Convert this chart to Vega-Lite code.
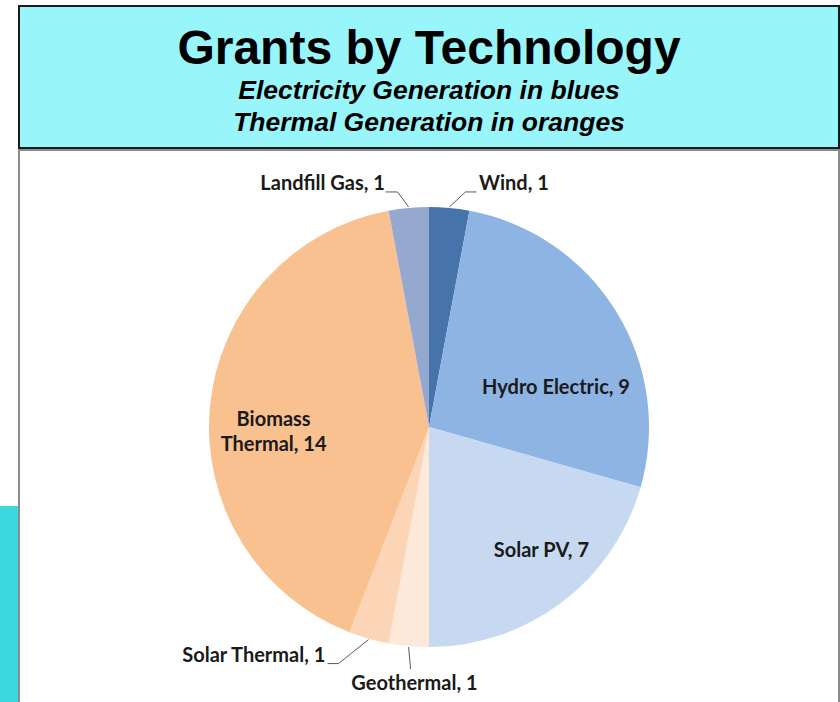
{
  "$schema": "https://vega.github.io/schema/vega-lite/v6.json",
  "padding": {"left": 0, "top": 5, "right": 0, "bottom": 0},
  "autosize": {"type": "pad"},
  "background": "white",
  "spacing": 0,
  "config": {"text": {"font": "Lato", "fontWeight": "bold", "fontSize": 20, "color": "#1a1a1a"}},
  "hconcat": [
    {
      "spacing": 0,
      "vconcat": [
        {
          "width": 18, "height": 500,
          "view": {"fill": "white", "stroke": null},
          "data": {"values": [{}]},
          "mark": {"type": "text", "text": ""}
        },
        {
          "width": 18, "height": 197,
          "view": {"fill": "#3DD8DE", "stroke": null},
          "data": {"values": [{}]},
          "mark": {"type": "text", "text": ""}
        }
      ]
    },
    {
      "spacing": 0,
      "vconcat": [
        {
          "width": 820,
          "height": 142,
          "view": {"fill": "#98F5FA", "stroke": "#1a1a1a", "strokeWidth": 2},
          "title": {
            "text": "Grants by Technology",
            "subtitle": ["Electricity Generation in blues", "Thermal Generation in oranges"],
            "anchor": "middle",
            "frame": "group",
            "orient": "top",
            "offset": -130,
            "font": "Liberation Sans",
            "fontSize": 48,
            "fontWeight": "bold",
            "color": "black",
            "subtitleFont": "Liberation Sans",
            "subtitleFontSize": 26.5,
            "subtitleFontStyle": "italic",
            "subtitleFontWeight": "bold",
            "subtitleColor": "black",
            "subtitlePadding": 4,
            "subtitleLineHeight": 32
          },
          "data": {"values": [{}]},
          "mark": {"type": "text", "text": ""}
        },
        {
          "width": 820,
          "height": 554,
          "view": {"fill": "white", "stroke": "#8c8c8c", "strokeWidth": 2},
          "data": {
            "values": [
              {"tech": "Wind", "grants": 1, "order": 1},
              {"tech": "Hydro Electric", "grants": 9, "order": 2},
              {"tech": "Solar PV", "grants": 7, "order": 3},
              {"tech": "Geothermal", "grants": 1, "order": 4},
              {"tech": "Solar Thermal", "grants": 1, "order": 5},
              {"tech": "Biomass Thermal", "grants": 14, "order": 6},
              {"tech": "Landfill Gas", "grants": 1, "order": 7}
            ]
          },
          "transform": [
            {"stack": "grants", "groupby": [], "sort": [{"field": "order", "order": "ascending"}], "as": ["s0", "s1"]},
            {"calculate": "(datum.s0 + datum.s1) / 2", "as": "mid"},
            {"calculate": "datum.tech + ', ' + datum.grants", "as": "label"}
          ],
          "layer": [
            {
              "mark": {"type": "arc", "outerRadius": 220},
              "encoding": {
                "theta": {"field": "s0", "type": "quantitative", "scale": {"domain": [0, 34]}},
                "theta2": {"field": "s1"},
                "color": {
                  "field": "tech",
                  "type": "nominal",
                  "legend": null,
                  "scale": {
                    "domain": ["Wind", "Hydro Electric", "Solar PV", "Geothermal", "Solar Thermal", "Biomass Thermal", "Landfill Gas"],
                    "range": ["#4674AA", "#8EB4E3", "#C6D9F1", "#FDE9D9", "#FBD5B5", "#F9C090", "#95A9D0"]
                  }
                }
              }
            },
            {
              "transform": [
                {"filter": "indexof(['Wind', 'Landfill Gas', 'Solar Thermal', 'Geothermal'], datum.tech) >= 0"},
                {"calculate": "datum.mid / 34 * 2 * PI", "as": "ang"},
                {"calculate": "221 * sin(datum.ang)", "as": "lx0"},
                {"calculate": "221 * cos(datum.ang)", "as": "ly0"},
                {"calculate": "datum.lx0 + (datum.tech === 'Wind' ? 16 : datum.tech === 'Landfill Gas' ? -11 : datum.tech === 'Solar Thermal' ? -30 : 2)", "as": "lx1"},
                {"calculate": "datum.ly0 + (datum.tech === 'Wind' ? 15 : datum.tech === 'Landfill Gas' ? 15 : datum.tech === 'Solar Thermal' ? -24 : -22)", "as": "ly1"},
                {"calculate": "datum.lx1 + (datum.tech === 'Wind' ? 11 : datum.tech === 'Landfill Gas' ? -12 : datum.tech === 'Solar Thermal' ? -11 : 0)", "as": "lx2"}
              ],
              "layer": [
                {
                  "mark": {"type": "rule", "color": "#595959", "strokeWidth": 1},
                  "encoding": {
                    "x": {"field": "lx0", "type": "quantitative", "scale": {"domain": [-410, 410], "nice": false, "zero": false}, "axis": null},
                    "y": {"field": "ly0", "type": "quantitative", "scale": {"domain": [-277, 277], "nice": false, "zero": false}, "axis": null},
                    "x2": {"field": "lx1"},
                    "y2": {"field": "ly1"}
                  }
                },
                {
                  "mark": {"type": "rule", "color": "#595959", "strokeWidth": 1},
                  "encoding": {
                    "x": {"field": "lx1", "type": "quantitative"},
                    "y": {"field": "ly1", "type": "quantitative"},
                    "x2": {"field": "lx2"},
                    "y2": {"field": "ly1"}
                  }
                }
              ]
            },
            {
              "transform": [{"filter": "datum.tech === 'Hydro Electric'"}],
              "mark": {"type": "text", "radius": 140, "dx": 8, "dy": 35},
              "encoding": {"theta": {"field": "mid", "type": "quantitative"}, "text": {"field": "label"}}
            },
            {
              "transform": [{"filter": "datum.tech === 'Solar PV'"}],
              "mark": {"type": "text", "radius": 150, "dx": 22, "dy": 4},
              "encoding": {"theta": {"field": "mid", "type": "quantitative"}, "text": {"field": "label"}}
            },
            {
              "transform": [
                {"filter": "datum.tech === 'Biomass Thermal'"},
                {"calculate": "replace(datum.label, ' ', '|')", "as": "label2"}
              ],
              "mark": {"type": "text", "radius": 150, "dx": -6, "dy": 7, "lineBreak": "|", "lineHeight": 25},
              "encoding": {"theta": {"field": "mid", "type": "quantitative"}, "text": {"field": "label2"}}
            },
            {
              "transform": [{"filter": "datum.tech === 'Wind'"}],
              "mark": {"type": "text", "radius": 250, "dx": 27, "dy": 6, "align": "left"},
              "encoding": {"theta": {"field": "mid", "type": "quantitative"}, "text": {"field": "label"}}
            },
            {
              "transform": [{"filter": "datum.tech === 'Landfill Gas'"}],
              "mark": {"type": "text", "radius": 250, "dx": -21, "dy": 6, "align": "right"},
              "encoding": {"theta": {"field": "mid", "type": "quantitative"}, "text": {"field": "label"}}
            },
            {
              "transform": [{"filter": "datum.tech === 'Geothermal'"}],
              "mark": {"type": "text", "radius": 255, "dx": 9, "dy": 3},
              "encoding": {"theta": {"field": "mid", "type": "quantitative"}, "text": {"field": "label"}}
            },
            {
              "transform": [{"filter": "datum.tech === 'Solar Thermal'"}],
              "mark": {"type": "text", "radius": 240, "dx": -38, "dy": -2, "align": "right"},
              "encoding": {"theta": {"field": "mid", "type": "quantitative"}, "text": {"field": "label"}}
            }
          ]
        }
      ]
    }
  ]
}
